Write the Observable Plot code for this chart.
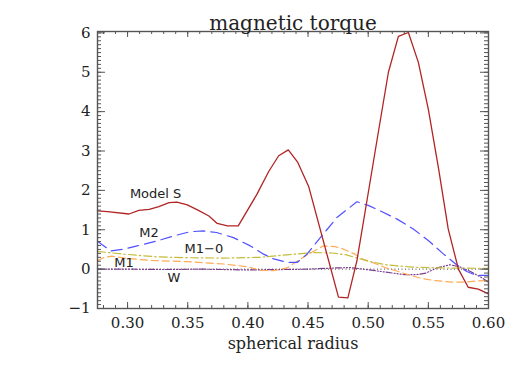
<!DOCTYPE html>
<html><head><meta charset="utf-8">
<script src="https://cdn.jsdelivr.net/npm/d3@7"></script>
<script src="https://cdn.jsdelivr.net/npm/@observablehq/plot@0.6"></script>
<style>body{margin:0;background:#fff;}</style>
</head><body><div id="chart"></div>
<script>
// spherical radius, value pairs
const modelS = [[0.275,1.48],[0.2833,1.46],[0.3012,1.40],[0.3093,1.49],[0.318,1.52],[0.326,1.59],[0.3345,1.69],[0.341,1.70],[0.3496,1.63],[0.3585,1.50],[0.3676,1.35],[0.3745,1.16],[0.383,1.10],[0.392,1.10],[0.4077,1.91],[0.4173,2.48],[0.4256,2.88],[0.4336,3.03],[0.4415,2.71],[0.4505,2.10],[0.4753,-0.71],[0.4831,-0.73],[0.4906,0.21],[0.4993,1.80],[0.508,3.40],[0.5168,5.00],[0.5251,5.91],[0.5334,6.01],[0.5417,5.25],[0.55,4.06],[0.5585,2.55],[0.5665,1.02],[0.575,0.0],[0.5831,-0.46],[0.5915,-0.51],[0.60,-0.63]];
const m2 = [[0.275,0.71],[0.286,0.46],[0.297,0.51],[0.308,0.59],[0.325,0.72],[0.339,0.85],[0.352,0.95],[0.363,0.97],[0.374,0.93],[0.388,0.80],[0.402,0.59],[0.413,0.38],[0.4215,0.26],[0.4325,0.17],[0.441,0.17],[0.4491,0.38],[0.4602,0.80],[0.474,1.31],[0.4906,1.71],[0.50,1.62],[0.51,1.48],[0.524,1.27],[0.5375,1.02],[0.551,0.70],[0.562,0.40],[0.5735,0.11],[0.582,-0.06],[0.59,-0.16],[0.60,-0.16]];
const m10 = [[0.275,0.45],[0.297,0.38],[0.325,0.31],[0.35,0.29],[0.38,0.28],[0.41,0.30],[0.435,0.37],[0.455,0.42],[0.47,0.41],[0.482,0.36],[0.499,0.21],[0.515,0.11],[0.537,0.05],[0.56,0.03],[0.60,0.02]];
const m1 = [[0.275,0.21],[0.2805,0.30],[0.287,0.33],[0.30,0.27],[0.32,0.22],[0.35,0.19],[0.38,0.13],[0.40,0.06],[0.4104,-0.03],[0.4215,-0.04],[0.4325,0.03],[0.4491,0.36],[0.4629,0.59],[0.4726,0.57],[0.48,0.50],[0.489,0.38],[0.4934,0.28],[0.505,0.15],[0.515,0.03],[0.525,-0.06],[0.535,-0.16],[0.545,-0.24],[0.555,-0.29],[0.57,-0.33],[0.58,-0.33],[0.59,-0.30],[0.60,-0.29]];
const w = [[0.275,0.0],[0.30,0.0],[0.33,-0.01],[0.36,0.0],[0.40,-0.02],[0.43,-0.01],[0.45,0.0],[0.4726,0.03],[0.485,0.04],[0.4934,0.01],[0.5058,-0.04],[0.53,-0.14],[0.54,-0.14],[0.548,-0.10],[0.557,0.03],[0.568,0.11],[0.576,0.06],[0.585,-0.06],[0.594,-0.21],[0.60,-0.33]];
const labels = [["Model S",0.3233,1.92],["M2",0.3178,0.93],["M1\u22120",0.3634,0.51],["M1",0.297,0.17],["W",0.3385,-0.21]];
const xTicks = [0.30,0.35,0.40,0.45,0.50,0.55,0.60];
const yTicks = [-1,0,1,2,3,4,5,6];
const title = "magnetic torque";
const xLabel = "spherical radius";

const W = 518, H = 370, mL = 97, mR = 30, mT = 31, mB = 62;
const xDom = [0.275, 0.60], yDom = [-1, 6.035];
const kx = (xDom[1]-xDom[0])/(W-mL-mR), ky = (yDom[1]-yDom[0])/(H-mT-mB);
const xMinor = d3.range(28, 61).map(d => d/100);
const yMinor = d3.range(-10, 61).map(d => d/10);
const serif = "DejaVu Serif";
const axisCol = "#555";
const txt = "#222";

const line = (data, stroke, dash, sw=1.2) => Plot.line(data, {x: d=>d[0], y: d=>d[1], stroke, strokeWidth: sw, strokeDasharray: dash});

const tickMarks = [
  Plot.ruleX(xMinor, {x: d=>d, y1: yDom[0], y2: yDom[0]+3*ky, stroke: axisCol}),
  Plot.ruleX(xMinor, {x: d=>d, y1: yDom[1], y2: yDom[1]-3*ky, stroke: axisCol}),
  Plot.ruleX(xTicks, {x: d=>d, y1: yDom[0], y2: yDom[0]+6*ky, stroke: axisCol}),
  Plot.ruleX(xTicks, {x: d=>d, y1: yDom[1], y2: yDom[1]-6*ky, stroke: axisCol}),
  Plot.ruleY(yMinor, {y: d=>d, x1: xDom[0], x2: xDom[0]+4*kx, stroke: axisCol}),
  Plot.ruleY(yMinor, {y: d=>d, x1: xDom[1], x2: xDom[1]-4*kx, stroke: axisCol}),
  Plot.ruleY(yTicks, {y: d=>d, x1: xDom[0], x2: xDom[0]+8*kx, stroke: axisCol}),
  Plot.ruleY(yTicks, {y: d=>d, x1: xDom[1], x2: xDom[1]-8*kx, stroke: axisCol}),
];

const chart = Plot.plot({
  width: W, height: H,
  marginLeft: mL, marginRight: mR, marginTop: mT, marginBottom: mB,
  x: {domain: xDom, axis: null},
  y: {domain: yDom, axis: null},
  style: {background: "#fff", color: txt},
  marks: [
    Plot.ruleY([0], {stroke: "#444", strokeDasharray: "1,2.5", strokeWidth: 1}),
    line(w, "#7a3c8c", "6,2,1,2,1,2,1,2"),
    line(m1, "#ffaa55", "7,4"),
    line(m10, "#c4bc3c", "8,3,1.5,3"),
    line(m2, "#5050ff", "11,6"),
    line(modelS, "#b22424", null, 1.3),
    Plot.text(labels, {x: d=>d[1], y: d=>d[2], text: d=>d[0], fontFamily: "DejaVu Sans", fontSize: 13, fill: txt, style: "letter-spacing:0.8px"}),
    ...tickMarks,
    Plot.frame({stroke: axisCol, strokeWidth: 1.4}),
    Plot.text(xTicks, {x: d=>d, frameAnchor: "bottom", dy: 19, text: d3.format(".2f"), fontSize: 15, fontFamily: serif, fill: txt}),
    Plot.text(yTicks, {y: d=>d, frameAnchor: "left", dx: -7, textAnchor: "end", text: d => String(d).replace("-", "\u2212"), fontSize: 15, fontFamily: serif, fill: txt}),
    Plot.text([xLabel], {frameAnchor: "bottom", dy: 40, text: d=>d, fontSize: 16, fontFamily: serif, fill: txt, style: "letter-spacing:0.6px"}),
    Plot.text([title], {frameAnchor: "top", dy: -16, text: d=>d, fontSize: 20, fontFamily: serif, fill: txt, style: "letter-spacing:1.4px"})
  ]
});
document.getElementById("chart").appendChild(chart);
</script>
</body></html>
